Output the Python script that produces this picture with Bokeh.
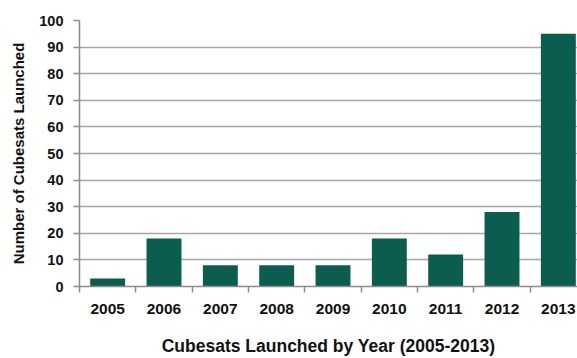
from bokeh.plotting import figure
from bokeh.models import Range1d, FixedTicker, ColumnDataSource
from bokeh.embed import file_html
from bokeh.resources import INLINE

years = ["2005", "2006", "2007", "2008", "2009", "2010", "2011", "2012", "2013"]
launched = [3, 18, 8, 8, 8, 18, 12, 28, 95]
y_ticks = [0, 10, 20, 30, 40, 50, 60, 70, 80, 90, 100]

FONT = "'Liberation Sans Narrow', 'Arial Narrow', 'Liberation Sans', Arial, sans-serif"
BAR = "#0b5e4f"

pos = [i + 0.5 for i in range(len(years))]
src = ColumnDataSource(dict(x=pos, top=launched, year=years))

p = figure(width=577, height=358, output_backend="svg", toolbar_location=None,
           x_range=Range1d(0, 8.84), y_range=Range1d(0, 100))
p.min_border_left = 79
p.min_border_right = 0
p.min_border_top = 20
p.min_border_bottom = 72
p.outline_line_color = None
p.background_fill_color = "white"
p.border_fill_color = "white"

p.vbar(x="x", top="top", width=0.62, bottom=0, source=src, color=BAR, line_color=None)

# x axis
p.xaxis.ticker = FixedTicker(ticks=pos, minor_ticks=list(range(len(years))))
p.xaxis.major_label_overrides = {pp: y for pp, y in zip(pos, years)}
p.xaxis.major_tick_line_color = None
p.xaxis.minor_tick_out = 6
p.xaxis.minor_tick_in = 0
p.xaxis.minor_tick_line_color = "#8c8c8c"
p.xaxis.minor_tick_line_width = 1.5
p.xaxis.axis_line_color = "#8c8c8c"
p.xaxis.axis_line_width = 1.5
p.xaxis.major_label_text_font = FONT
p.xaxis.major_label_text_font_style = "bold"
p.xaxis.major_label_text_font_size = "15.5px"
p.xaxis.major_label_text_color = "#111111"
p.xaxis.major_label_standoff = 11
p.xaxis.axis_label = "Cubesats Launched by Year (2005-2013)"
p.xaxis.axis_label_text_font = FONT
p.xaxis.axis_label_text_font_style = "bold"
p.xaxis.axis_label_text_font_size = "17.5px"
p.xaxis.axis_label_text_color = "#111111"
p.xaxis.axis_label_standoff = 19

# y axis
p.yaxis.ticker = FixedTicker(ticks=y_ticks)
p.yaxis.major_tick_out = 6
p.yaxis.major_tick_in = 0
p.yaxis.major_tick_line_color = "#8c8c8c"
p.yaxis.major_tick_line_width = 1.5
p.yaxis.minor_tick_line_color = None
p.yaxis.axis_line_color = "#8c8c8c"
p.yaxis.axis_line_width = 1.5
p.yaxis.major_label_text_font = FONT
p.yaxis.major_label_text_font_style = "bold"
p.yaxis.major_label_text_font_size = "14.5px"
p.yaxis.major_label_text_color = "#111111"
p.yaxis.major_label_standoff = 10
p.yaxis.axis_label = "Number of Cubesats Launched"
p.yaxis.axis_label_text_font = FONT
p.yaxis.axis_label_text_font_style = "bold"
p.yaxis.axis_label_text_font_size = "15px"
p.yaxis.axis_label_text_color = "#111111"
p.yaxis.axis_label_standoff = 9

p.xgrid.grid_line_color = None
p.ygrid.grid_line_color = "#a6a6a6"
p.ygrid.grid_line_width = 1.5

open("out.html", "w").write(file_html(p, INLINE))
